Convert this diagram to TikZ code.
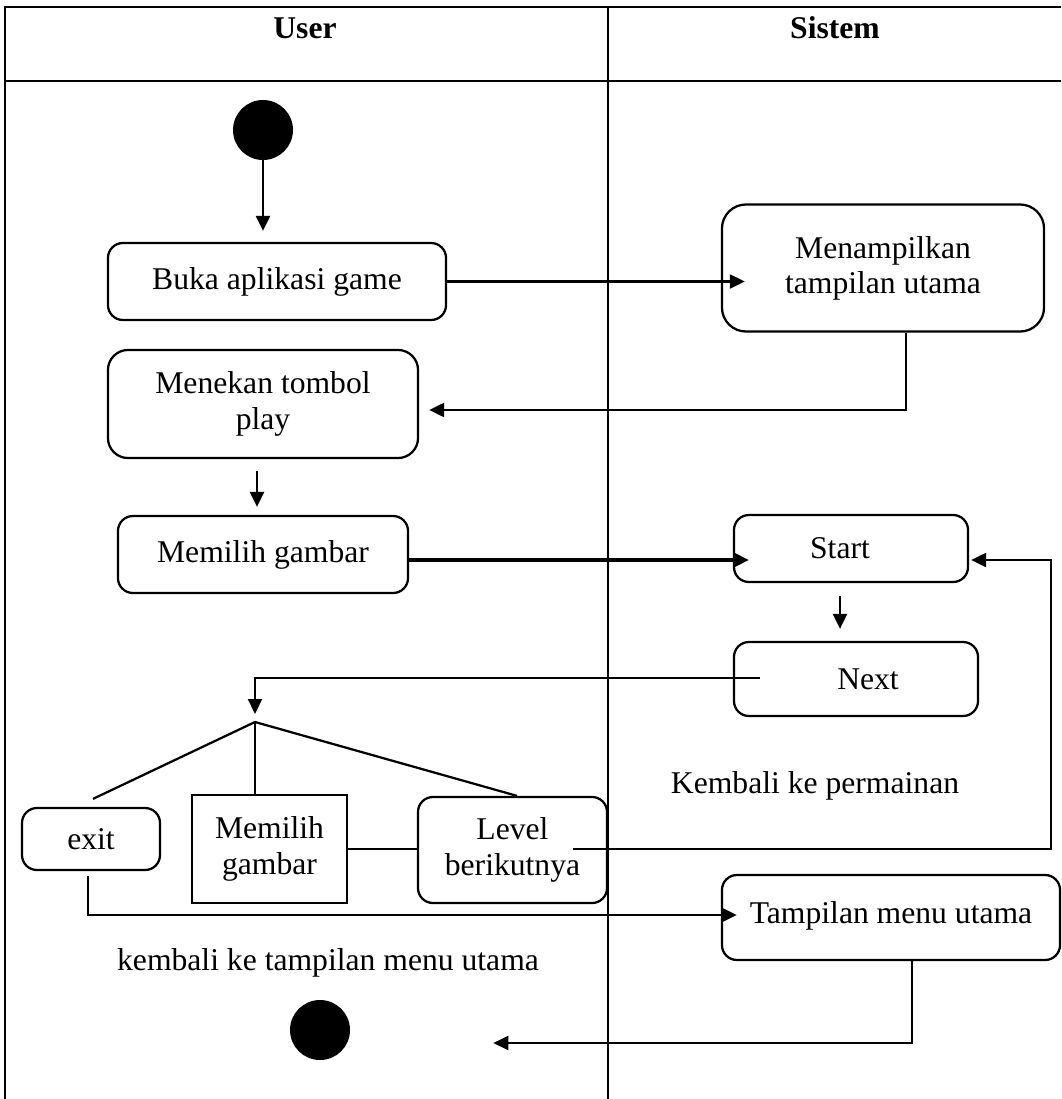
\documentclass[tikz,border=0pt]{standalone}
\usepackage{fontspec}
\setmainfont{Liberation Serif}
\usetikzlibrary{arrows.meta,calc}
\begin{document}
\begin{tikzpicture}[x=0.025cm,y=-0.025cm,
  every node/.style={font=\fontsize{22.5}{25}\selectfont},
  lane/.style={line width=1.2pt},
  act/.style={draw,line width=1.6pt,rounded corners=0.375cm,align=center,inner sep=0pt},
  plain/.style={draw,line width=1.6pt,align=center,inner sep=0pt},
  dot/.style={circle,fill=black,minimum size=1.5cm,inner sep=0pt},
  flow/.style={line width=1.6pt,-{Triangle[length=0.375cm,width=0.35cm]}},
  link/.style={line width=1.6pt},
  note/.style={inner sep=0pt}]
\useasboundingbox (0,0) rectangle (1061,1099);

% swimlanes
\draw[lane] (5,1099) -- (5,7) -- (1061,7);
\draw[lane] (5,81) -- (1061,81);
\draw[lane] (608,7) -- (608,1099);
\node[note,font=\fontsize{22.5}{25}\selectfont\bfseries] (huser) at (305,28) {User};
\node[note,font=\fontsize{22.5}{25}\selectfont\bfseries] (hsys) at (835,28) {Sistem};

% activities
\node[dot] (init) at (263,130) {};
\node[act,minimum width=8.45cm,minimum height=1.925cm] (buka) at (277,281.5) {Buka aplikasi game};
\node[act,rounded corners=0.6cm,minimum width=8.05cm,minimum height=3.175cm] (tampil) at (883,268) {Menampilkan\\tampilan utama};
\node[act,rounded corners=0.5cm,minimum width=7.75cm,minimum height=2.7cm] (tekan) at (263,404) {Menekan tombol\\play};
\node[act,minimum width=7.25cm,minimum height=1.925cm] (pilih) at (263,554.5) {Memilih gambar};
\node[act,minimum width=5.85cm,minimum height=1.675cm] (sb) at (851,548.5) {\hspace*{-0.55cm}Start};
\node[act,minimum width=6.1cm,minimum height=1.85cm] (next) at (856,679) {\hspace*{0.6cm}Next};
\node[act,minimum width=3.45cm,minimum height=1.55cm] (exit) at (91,839) {exit};
\node[plain,minimum width=3.875cm,minimum height=2.7cm] (pilih2) at (269.5,849) {Memilih\\gambar};
\node[act,minimum width=4.725cm,minimum height=2.65cm] (level) at (512.5,850) {Level\\berikutnya};
\node[act,minimum width=8.45cm,minimum height=2.125cm] (menu) at (891,917.5) {\raisebox{0.25cm}{Tampilan menu utama}};
\node[dot] (final) at (320,1030) {};
\node[note] (kperm) at (815,786) {Kembali ke permainan};
\node[note] (kmenu) at (328,963) {kembali ke tampilan menu utama};
\coordinate (fork) at (255,722);

% flows
\draw[flow,shorten >=0.275cm] (init.south) -- (init.south |- buka.north);
\draw[flow] (buka.east) -- ($(buka.east -| tampil.west)+(24,0)$);
\draw[flow] ($(tampil.south)+(23,0)$) |- ($(tekan.east)+(10,6)$);
\draw[flow] ($(tekan.south)+(-6,12)$) -- ($(pilih.north)+(-6,-8)$);
\draw[flow,line width=2.6pt] ($(pilih.east)+(0,5.5)$) -- ($(sb.west)+(16,11.5)$);
\draw[flow] ($(sb.south)+(-11,13)$) -- ($(next.north)+(-16,-12)$);
\draw[flow] ($(next.center)+(-96,-1)$) -| ($(fork)+(0,-8)$);
\draw[link] (fork) -- ($(exit.north)+(2,-8)$);
\draw[link] (fork) -- (fork |- pilih2.north);
\draw[link] (fork) -- ($(level.north)+(4.5,0)$);
\draw[link] (pilih2.east) -- (pilih2.east -| level.west);
\draw[flow] ($(level.center)+(60,-1)$) -| ($(sb.east)+(82,11.5)$) -- ($(sb.east)+(2,11.5)$);
\draw[flow] ($(exit.south)+(-3,5)$) |- ($(menu.west)+(16,-2.5)$);
\draw[flow] ($(menu.south)+(21,0)$) |- ($(final.east)+(143,13)$);
\end{tikzpicture}
\end{document}
